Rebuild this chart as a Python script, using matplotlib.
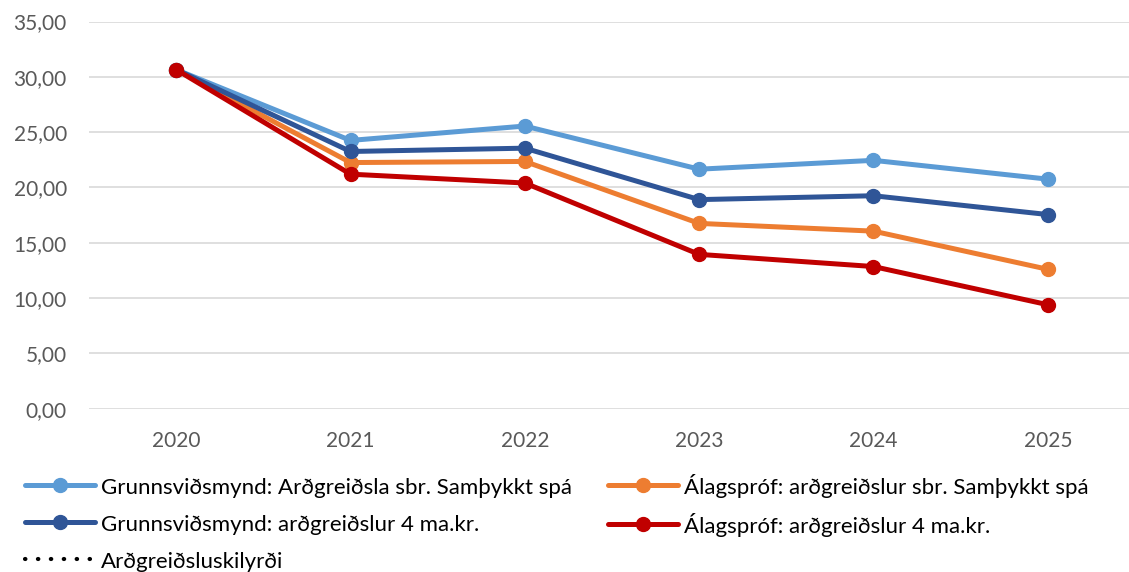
import matplotlib.pyplot as plt
from matplotlib.ticker import FuncFormatter

plt.rcParams['font.family'] = ['Lato', 'DejaVu Sans']

# Data
years = ['2020', '2021', '2022', '2023', '2024', '2025']
grunn_samthykkt = [30.65, 24.25, 25.55, 21.65, 22.45, 20.75]
alag_samthykkt = [30.65, 22.25, 22.35, 16.75, 16.05, 12.6]
grunn_4ma = [30.65, 23.25, 23.55, 18.9, 19.25, 17.55]
alag_4ma = [30.65, 21.2, 20.4, 13.95, 12.85, 9.4]
skilyrdi = []  # no visible values in the reference

fig = plt.figure(figsize=(11.29, 5.72), dpi=100)
ax = fig.add_axes([89 / 1129, 1 - 408.7 / 572, (1135 - 89) / 1129, (408.7 - 21.5) / 572])

x = range(len(years))
style = dict(linewidth=3.6, marker='o', markersize=10, solid_capstyle='round')

l1, = ax.plot(x, grunn_samthykkt, color='#5B9BD5', label='Grunnsviðsmynd: Arðgreiðsla sbr. Samþykkt spá', **style)
l2, = ax.plot(x, alag_samthykkt, color='#ED7D31', label='Álagspróf: arðgreiðslur sbr. Samþykkt spá', **style)
l3, = ax.plot(x, grunn_4ma, color='#2F5597', label='Grunnsviðsmynd: arðgreiðslur 4 ma.kr.', **style)
l4, = ax.plot(x, alag_4ma, color='#C00000', label='Álagspróf: arðgreiðslur 4 ma.kr.', **style)
l5, = ax.plot(skilyrdi, skilyrdi, color='black', linewidth=3, linestyle=(0, (0.1, 3.0)),
              dash_capstyle='round', label='Arðgreiðsluskilyrði')

ax.set_xlim(-0.5, 5.5)
ax.set_ylim(0, 35)
ax.set_yticks(range(0, 36, 5))
ax.set_xticks(list(x))
ax.set_xticklabels(years)
ax.yaxis.set_major_formatter(FuncFormatter(lambda v, p: f'{v:.2f}'.replace('.', ',')))

ax.grid(axis='y', color='#D9D9D9', linewidth=1.2)
ax.set_axisbelow(True)
for s in ax.spines.values():
    s.set_visible(False)
ax.tick_params(length=0, labelsize=15, colors='#595959')
ax.tick_params(axis='y', pad=16)
ax.tick_params(axis='x', pad=16)

fig.legend(handles=[l1, l3, l5, l2, l4], ncol=2, loc='upper left',
           bbox_to_anchor=(25 / 1129, 1 - 474 / 572), frameon=False, fontsize=16,
           handlelength=3.15, handletextpad=0.27, columnspacing=1.6,
           handleheight=1.1, labelspacing=0.66, borderpad=0, borderaxespad=0)

fig.savefig('out.png', dpi=100)
